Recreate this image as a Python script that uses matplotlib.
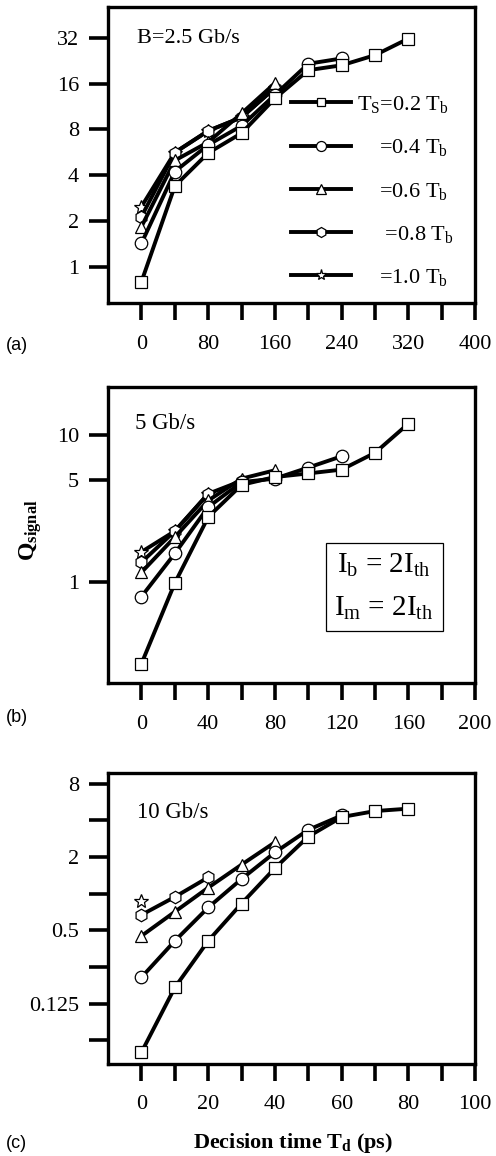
import numpy as np
import matplotlib
matplotlib.use("Agg")
import matplotlib.pyplot as plt
from matplotlib.ticker import FixedLocator, NullLocator

plt.rcParams['font.family'] = ['Liberation Serif', 'DejaVu Serif']
plt.rcParams['mathtext.fontset'] = 'custom'
plt.rcParams['mathtext.rm'] = 'Liberation Serif'
plt.rcParams['mathtext.it'] = 'Liberation Serif:italic'
plt.rcParams['mathtext.bf'] = 'Liberation Serif:bold'

# ---- data ----
# (a) B = 2.5 Gb/s
td_a = [0, 40, 80, 120, 160, 200, 240, 280, 320]
qa_02 = [0.80, 3.4, 5.6, 7.56, 12.8, 19.6, 21.1, 24.6, 31.6]
qa_04 = [1.43, 4.23, 6.33, 8.45, 13.5, 21.6, 23.4]
qa_06 = [1.84, 5.0, 6.6, 10.2, 16.1]
qa_08 = [2.14, 5.64, 7.83, 9.6, 15.0]
qa_10 = [2.49, 5.64, 7.83, 9.6, 15.0]

# (b) 5 Gb/s
td_b = [0, 20, 40, 60, 80, 100, 120, 140, 160]
qb_02 = [0.28, 0.99, 2.78, 4.6, 5.2, 5.5, 5.84, 7.6, 12.0]
qb_04 = [0.80, 1.57, 3.25, 4.8, 5.07, 6.03, 7.2]
qb_06 = [1.17, 2.03, 3.6, 5.07, 5.78]
qb_08 = [1.37, 2.23, 4.0, 4.9]
qb_10 = [1.61, 2.23, 4.0]

# (c) 10 Gb/s
td_c = [0, 10, 20, 30, 40, 50, 60, 70, 80]
qc_02 = [0.05, 0.17, 0.41, 0.83, 1.62, 2.94, 4.25, 4.76, 4.98]
qc_04 = [0.206, 0.41, 0.77, 1.32, 2.18, 3.34, 4.38]
qc_06 = [0.45, 0.71, 1.12, 1.73, 2.64]
qc_08 = [0.67, 0.94, 1.36]
qc_10 = [0.87]

labels = [r'$\mathrm{T_S}$=0.2 $\mathrm{T_b}$',
          r'    =0.4 $\mathrm{T_b}$',
          r'    =0.6 $\mathrm{T_b}$',
          r'     =0.8 $\mathrm{T_b}$',
          r'    =1.0 $\mathrm{T_b}$']
markers = ['s', 'o', '^', 'h', '*']
msizes = [8, 9, 9, 9, 10]


def style_axes(ax):
    for sp in ax.spines.values():
        sp.set_linewidth(2.4)
    ax.tick_params(axis='both', which='major', direction='out', width=2.6,
                   labelsize=16, top=False, right=False)
    ax.tick_params(axis='x', length=12, pad=11)
    ax.tick_params(axis='y', length=14, pad=7)
    ax.yaxis.set_minor_locator(NullLocator())
    ax.xaxis.set_minor_locator(NullLocator())


def draw(ax, td, series):
    # drawn from last to first so the hidden points stay behind
    for i in range(len(series) - 1, -1, -1):
        q = series[i]
        ax.plot(td[:len(q)], q, '-', color='black', lw=2.8, marker=markers[i],
                ms=msizes[i], mfc='white', mec='black', mew=0.9,
                label=labels[i])


fig = plt.figure(figsize=(4.96, 11.56), dpi=100)
ax1 = fig.add_axes([0.218, 0.738, 0.740, 0.256])
ax2 = fig.add_axes([0.218, 0.409, 0.740, 0.256])
ax3 = fig.add_axes([0.218, 0.080, 0.740, 0.251])

# (a)
draw(ax1, td_a, [qa_02, qa_04, qa_06, qa_08, qa_10])
ax1.set_yscale('log', base=2)
ax1.set_xlim(-40, 400)
ax1.set_ylim(0.58, 51)
style_axes(ax1)
ax1.yaxis.set_major_locator(FixedLocator([1, 2, 4, 8, 16, 32]))
ax1.set_yticklabels(['1', '2', '4', '8', '16', '32'])
ax1.set_xticks(np.arange(0, 401, 40))
ax1.set_xticklabels([str(v) if v % 80 == 0 else '' for v in range(0, 401, 40)])
ax1.text(0.079, 0.895, 'B=2.5 Gb/s', transform=ax1.transAxes, fontsize=16,
         va='center', ha='left')
h, l = ax1.get_legend_handles_labels()
ax1.legend(h[::-1], l[::-1], loc='lower right', bbox_to_anchor=(0.94, 0.05),
           frameon=False, fontsize=16, handlelength=2.7, handletextpad=0.25,
           labelspacing=1.0, borderaxespad=0, borderpad=0, markerscale=0.8)

# (b)
draw(ax2, td_b, [qb_02, qb_04, qb_06, qb_08, qb_10])
ax2.set_yscale('log')
ax2.set_xlim(-20, 200)
ax2.set_ylim(0.206, 21.2)
style_axes(ax2)
ax2.yaxis.set_major_locator(FixedLocator([1, 5, 10]))
ax2.set_yticklabels(['1', '5', '10'])
ax2.set_xticks(np.arange(0, 201, 20))
ax2.set_xticklabels([str(v) if v % 40 == 0 else '' for v in range(0, 201, 20)])
ax2.text(0.074, 0.878, '5 Gb/s', transform=ax2.transAxes, fontsize=16.5,
         va='center', ha='left')
ax2.text(0.752, 0.326,
         r'$\mathrm{I_b}$ = 2$\mathrm{I_{th}}$' + '\n'
         + r'$\mathrm{I_m}$ = 2$\mathrm{I_{th}}$',
         transform=ax2.transAxes, fontsize=21, va='center', ha='center',
         linespacing=1.75,
         bbox=dict(boxstyle='square,pad=0.3', fc='white', ec='black', lw=0.9))

# (c)
draw(ax3, td_c, [qc_02, qc_04, qc_06, qc_08, qc_10])
ax3.set_yscale('log', base=2)
ax3.set_xlim(-10, 100)
ax3.set_ylim(0.0404, 9.7)
style_axes(ax3)
yt_c = [0.0625, 0.125, 0.25, 0.5, 1, 2, 4, 8]
ax3.yaxis.set_major_locator(FixedLocator(yt_c))
ax3.set_yticklabels(['', '0.125', '', '0.5', '', '2', '', '8'])
ax3.set_xticks(np.arange(0, 101, 10))
ax3.set_xticklabels([str(v) if v % 20 == 0 else '' for v in range(0, 101, 10)])
ax3.text(0.079, 0.866, '10 Gb/s', transform=ax3.transAxes, fontsize=16.5,
         va='center', ha='left')

# labels
fig.text(0.062, 1 - 530 / 1156, r'$\mathbf{Q_{signal}}$', rotation=90,
         fontsize=17, ha='center', va='center')
fig.text(0.59, 1 - 1143 / 1156, r'Decision time $\mathbf{T_d}$ (ps)',
         fontsize=16, fontweight='bold', ha='center', va='center')
for lab, yy in [('(a)', 346), ('(b)', 718), ('(c)', 1143)]:
    fig.text(0.012, 1 - yy / 1156, lab, fontsize=13, family='Liberation Sans',
             ha='left', va='center')

fig.savefig('out.png', dpi=100)
